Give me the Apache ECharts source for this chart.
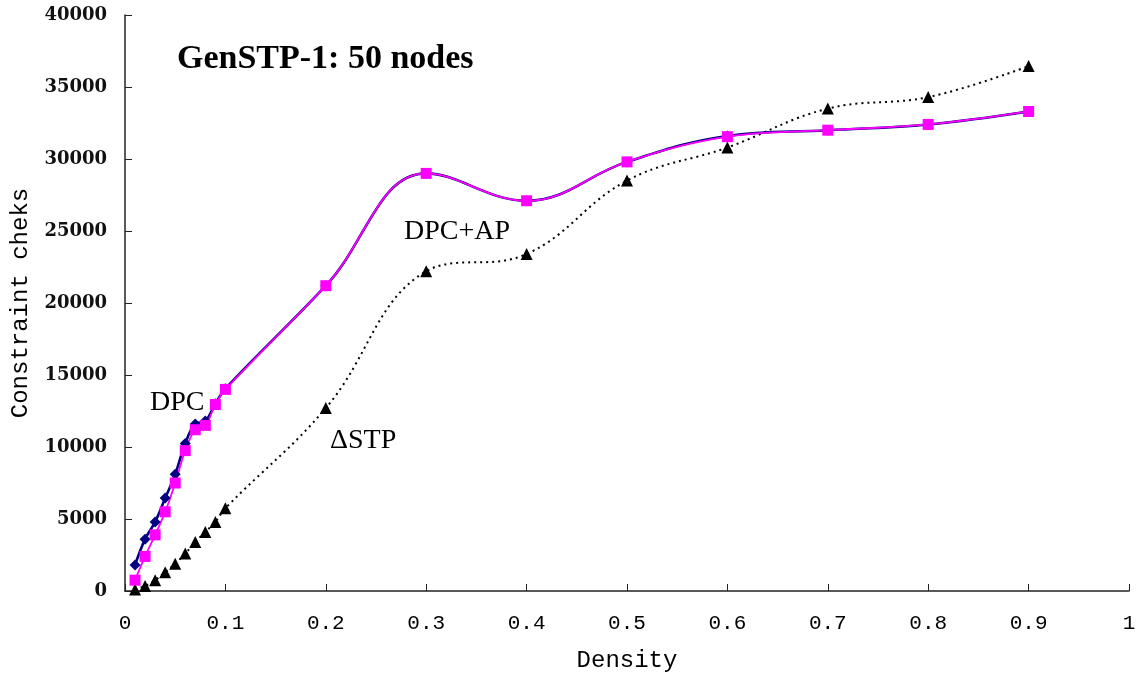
<!DOCTYPE html>
<html>
<head>
<meta charset="utf-8">
<script src="https://cdn.jsdelivr.net/npm/echarts@6/dist/echarts.min.js"></script>
<style>
  html, body { margin: 0; padding: 0; background: #fff; }
  #myChart { width: 1141px; height: 685px; }
</style>
</head>
<body>
<div id="myChart"></div>
<script>
// x values (density)
var density = [0.01, 0.02, 0.03, 0.04, 0.05, 0.06, 0.07, 0.08, 0.09, 0.1, 0.2, 0.3, 0.4, 0.5, 0.6, 0.7, 0.8, 0.9]
// constraint checks per algorithm
var dpc = [1800, 3600, 4800, 6450, 8100, 10250, 11600, 11800, 13000, 14050, 21200, 29000, 27100, 29800, 31600, 32000, 32400, 33300]
var dpcAp = [750, 2400, 3900, 5500, 7500, 9750, 11200, 11500, 12950, 14000, 21200, 29000, 27100, 29800, 31550, 32000, 32400, 33300]
var stp = [100, 350, 750, 1300, 1900, 2600, 3400, 4100, 4800, 5750, 12700, 22200, 23400, 28500, 30800, 33500, 34300, 36450]

function pairs(ys) {
  return density.map(function (x, i) { return [x, ys[i]] })
}

var myChart = echarts.init(document.getElementById('myChart'))

var option = {
  backgroundColor: '#fff',
  animation: false,
  grid: {
    left: 125,
    right: 12,
    top: 15,
    bottom: 94,
  },
  xAxis: {
    type: 'value',
    min: 0,
    max: 1,
    interval: 0.1,
    name: 'Density',
    nameLocation: 'middle',
    nameGap: 58,
    nameTextStyle: {
      fontFamily: 'Liberation Mono',
      fontSize: 24,
      color: '#000',
    },
    axisLine: { lineStyle: { color: '#222', width: 1.5 } },
    axisTick: { inside: true, length: 7, lineStyle: { color: '#222' } },
    splitLine: { show: false },
    axisLabel: {
      margin: 22,
      fontFamily: 'Liberation Mono',
      fontSize: 21,
      color: '#000',
      formatter: function (v) {
        return String(Math.round(v * 10) / 10)
      },
    },
  },
  yAxis: {
    type: 'value',
    min: 0,
    max: 40000,
    interval: 5000,
    name: 'Constraint cheks',
    nameLocation: 'middle',
    nameGap: 92,
    nameTextStyle: {
      fontFamily: 'Liberation Mono',
      fontSize: 24,
      color: '#000',
    },
    axisLine: { show: true, lineStyle: { color: '#222', width: 1.5 } },
    axisTick: { show: true, inside: true, length: 7, lineStyle: { color: '#222' } },
    splitLine: { show: false },
    axisLabel: {
      margin: 18,
      fontFamily: '"DejaVu Serif"',
      fontSize: 18,
      fontWeight: 'bold',
      color: '#111',
      formatter: function (v) {
        return String(v)
      },
    },
  },
  graphic: [
    {
      type: 'text',
      left: 177,
      top: 42,
      style: {
        text: 'GenSTP-1: 50 nodes',
        font: 'bold 34px "Liberation Serif"',
        fill: '#000',
      },
    },
    {
      type: 'text',
      left: 150,
      top: 389,
      style: { text: 'DPC', font: '28px "Liberation Serif"', fill: '#000' },
    },
    {
      type: 'text',
      left: 404,
      top: 218,
      style: { text: 'DPC+AP', font: '28px "Liberation Serif"', fill: '#000' },
    },
    {
      type: 'text',
      left: 330,
      top: 427,
      style: { text: 'ΔSTP', font: '28px "Liberation Serif"', fill: '#000' },
    },
  ],
  series: [
    {
      name: 'ΔSTP',
      type: 'line',
      smooth: 0.4,
      data: pairs(stp),
      symbol: 'triangle',
      symbolSize: 12,
      itemStyle: { color: '#000' },
      lineStyle: { color: '#000', width: 2, type: [2, 4] },
    },
    {
      name: 'DPC',
      type: 'line',
      smooth: 0.4,
      data: pairs(dpc),
      symbol: 'diamond',
      symbolSize: 11,
      itemStyle: { color: '#000080' },
      lineStyle: { color: '#000080', width: 2.6 },
    },
    {
      name: 'DPC+AP',
      type: 'line',
      smooth: 0.4,
      data: pairs(dpcAp),
      symbol: 'rect',
      symbolSize: 11,
      itemStyle: { color: '#ff00ff' },
      lineStyle: { color: '#ff00ff', width: 1.8 },
    },
  ],
}
myChart.setOption(option)
</script>
</body>
</html>
